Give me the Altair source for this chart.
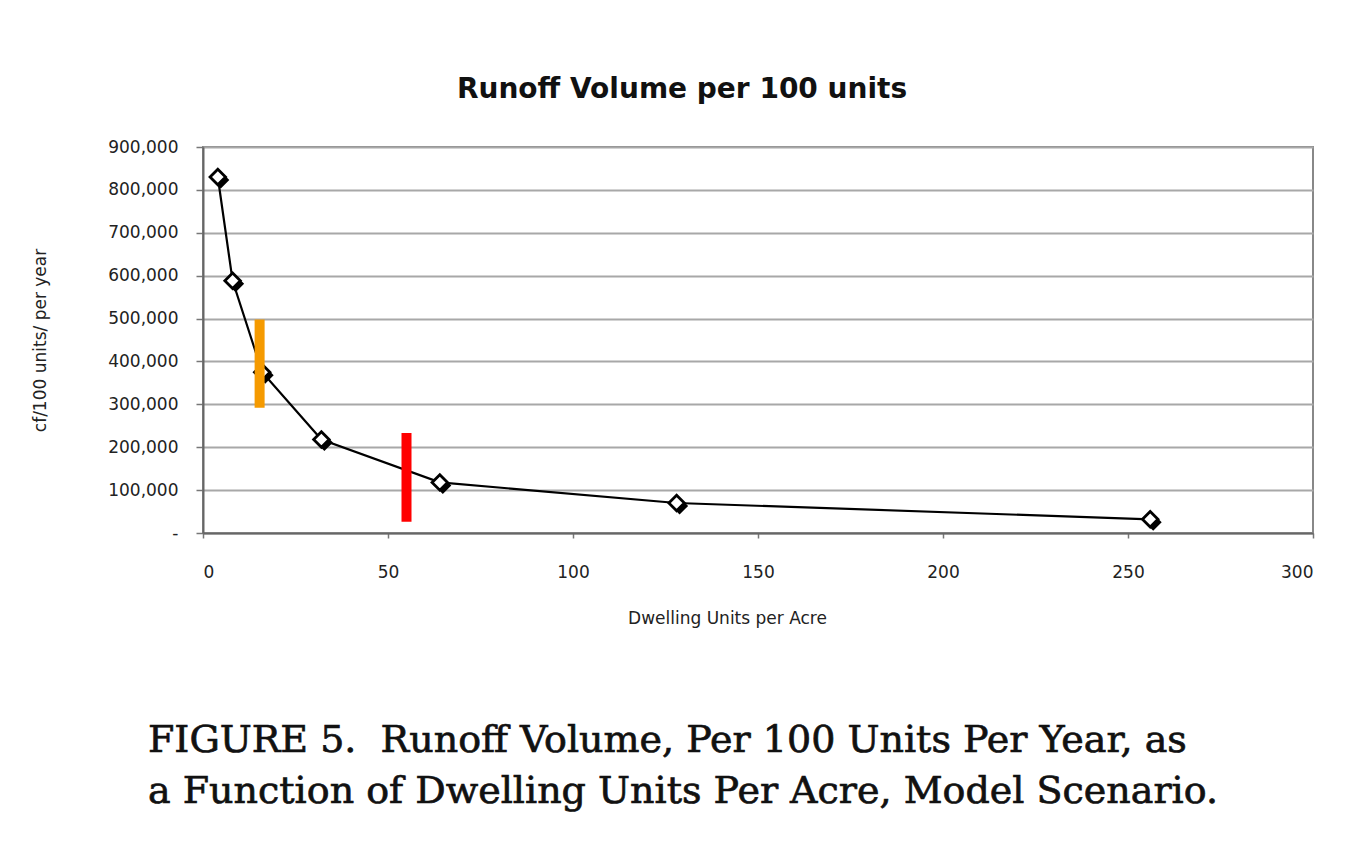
import altair as alt
import pandas as pd

# ---- data ----
dwelling_units = [4, 8, 16, 32, 64, 128, 256]
runoff_cf = [830000, 588000, 375000, 218000, 118000, 70000, 32000]

# coloured annotation bars: x position, bottom, top
bar_names = ["orange", "red"]
bar_x = [15.3, 55.0]
bar_low = [292000, 26000]
bar_high = [498000, 233000]
bar_colors = ["#F59A00", "#FF0000"]

title_text = "Runoff Volume per 100 units"
x_title = "Dwelling Units per Acre"
y_title = "cf/100 units/ per year"
caption_lines = [
    "FIGURE 5.\u00a0 Runoff Volume, Per 100 Units Per Year, as",
    "a Function of Dwelling Units Per Acre, Model Scenario.",
]
y_ticks = [0, 100000, 200000, 300000, 400000, 500000, 600000, 700000, 800000, 900000]
x_ticks = [0, 50, 100, 150, 200, 250, 300]

pts = pd.DataFrame({"x": dwelling_units, "y": runoff_cf})
bars = pd.DataFrame({"name": bar_names, "x": bar_x, "lo": bar_low, "hi": bar_high})

SANS = "DejaVu Sans"

xscale = alt.Scale(domain=[0, 300], nice=False)
yscale = alt.Scale(domain=[0, 900000], nice=False)

xaxis = alt.Axis(
    values=x_ticks, title=x_title, grid=False,
    labelFont=SANS, labelFontSize=17, labelColor="#222", labelPadding=26,
    tickSize=5, tickColor="#777", tickWidth=1.5,
    domainColor="#666", domainWidth=2,
    titleFont=SANS, titleFontSize=17, titleFontWeight="normal", titleColor="#222",
    titleX=524, titleY=85, titleBaseline="middle", titleAnchor="start", titleAlign="center",
)
yaxis = alt.Axis(
    values=y_ticks, title=y_title,
    labelExpr="datum.value == 0 ? '-' : format(datum.value, ',')",
    labelFont=SANS, labelFontSize=17, labelColor="#222", labelPadding=18,
    tickSize=7, tickColor="#777", tickWidth=1.5,
    grid=True, gridColor="#A8A8A8", gridWidth=2,
    domainColor="#666", domainWidth=2,
    titleFont=SANS, titleFontSize=17, titleFontWeight="normal", titleColor="#222",
    titleX=-163, titleY=193, titleBaseline="middle", titleAlign="center", titleAngle=270,
)

line = alt.Chart(pts).mark_line(color="black", strokeWidth=2.2).encode(
    x=alt.X("x:Q", scale=xscale, axis=xaxis),
    y=alt.Y("y:Q", scale=yscale, axis=yaxis),
)
shadow = alt.Chart(pts).mark_point(
    shape="diamond", size=290, filled=True, color="black", opacity=1, xOffset=3, yOffset=3
).encode(x="x:Q", y="y:Q")
marker = alt.Chart(pts).mark_point(
    shape="diamond", size=240, filled=True, fill="white", stroke="black", strokeWidth=2.8, opacity=1
).encode(x="x:Q", y="y:Q")

bar_layer = alt.Chart(bars).mark_rule(strokeWidth=10).encode(
    x="x:Q", y="lo:Q", y2="hi:Q",
    color=alt.Color("name:N", scale=alt.Scale(domain=bar_names, range=bar_colors), legend=None),
)

title_df = pd.DataFrame({"t": [title_text]})
title_layer = alt.Chart(title_df).mark_text(
    font=SANS, fontSize=28, fontWeight="bold", color="#111", align="center", baseline="middle"
).encode(text="t:N", x=alt.value(479), y=alt.value(-57))

cap_df = pd.DataFrame({"t": caption_lines, "row": [0, 1]})
cap1 = alt.Chart(cap_df.iloc[[0]]).mark_text(
    font="DejaVu Serif", fontSize=38, color="#111", stroke="#111", strokeWidth=0.7,
    align="left", baseline="alphabetic"
).encode(text="t:N", x=alt.value(-55), y=alt.value(605))
cap2 = alt.Chart(cap_df.iloc[[1]]).mark_text(
    font="DejaVu Serif", fontSize=38, color="#111", stroke="#111", strokeWidth=0.7,
    align="left", baseline="alphabetic"
).encode(text="t:N", x=alt.value(-55), y=alt.value(656))

chart = alt.layer(line, shadow, marker, bar_layer, title_layer, cap1, cap2).properties(
    width=1110, height=386,
    autosize=alt.AutoSizeParams(type="none"),
    padding={"left": 195, "top": 139, "right": 45, "bottom": 315},
    background="white",
).configure_view(stroke="#888", strokeWidth=2)

chart.save("out.html", embed_options={"renderer": "svg", "actions": False})
